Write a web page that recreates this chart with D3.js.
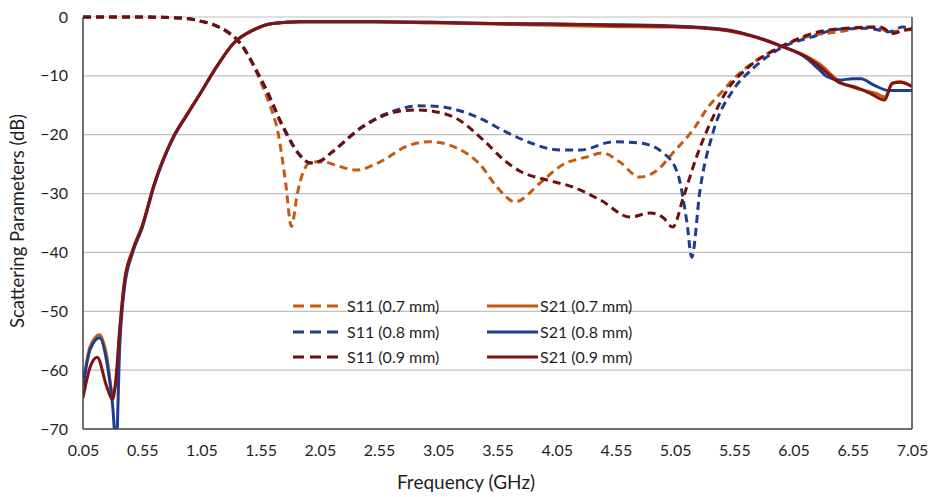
<!DOCTYPE html>
<html>
<head>
<meta charset="utf-8">
<script src="https://cdn.jsdelivr.net/npm/d3@7"></script>
<style>
  html, body { margin: 0; padding: 0; background: #fff; }
  svg { display: block; font-family: Lato, "Open Sans", sans-serif; }
</style>
</head>
<body>
<svg id="chart" width="928" height="497"></svg>
<script>
// ---------- data (frequency GHz, dB) ----------
const xTicks = [0.05, 0.55, 1.05, 1.55, 2.05, 2.55, 3.05, 3.55, 4.05, 4.55, 5.05, 5.55, 6.05, 6.55, 7.05];
const yTicks = [0, -10, -20, -30, -40, -50, -60, -70];

const s11_07 = [[0.05,0],[0.5,0],[0.8,-0.1],[0.95,-0.3],[1.04,-0.7],[1.15,-1.3],[1.27,-2.6],[1.38,-4.6],[1.47,-7.5],[1.55,-11],[1.62,-14.5],[1.70,-20],[1.76,-28],[1.81,-35.6],[1.86,-30],[1.91,-26.3],[1.98,-24.6],[2.1,-24.7],[2.2,-25.3],[2.36,-26],[2.56,-24.6],[2.79,-21.9],[2.98,-21.2],[3.21,-22.3],[3.4,-25],[3.55,-29],[3.70,-31.4],[3.91,-28.2],[4.10,-25.1],[4.3,-23.8],[4.44,-23.1],[4.58,-24.6],[4.75,-27.2],[4.90,-26],[5.03,-23.1],[5.20,-19.2],[5.34,-15],[5.45,-12.6],[5.54,-10.6],[5.74,-7.3],[5.94,-5.1],[6.19,-3.2],[6.44,-2.5],[6.67,-1.7],[6.78,-1.9],[6.86,-2.6],[6.95,-2.3],[7.05,-2.1]];

const s11_08 = [[0.05,0],[0.5,0],[0.8,-0.1],[0.95,-0.3],[1.04,-0.7],[1.15,-1.3],[1.27,-2.5],[1.38,-4.5],[1.52,-9.3],[1.60,-12.6],[1.74,-18.8],[1.88,-23.5],[1.97,-24.8],[2.05,-24.5],[2.15,-23],[2.41,-18.6],[2.7,-15.8],[2.87,-15.1],[3.05,-15.2],[3.21,-15.8],[3.40,-17.2],[3.6,-19.3],[3.77,-20.9],[4.08,-22.6],[4.25,-22.6],[4.53,-21.2],[4.75,-21.4],[4.95,-23.1],[5.07,-26.5],[5.15,-35],[5.19,-40.8],[5.26,-29.4],[5.37,-19.6],[5.54,-12.4],[5.71,-8.7],[5.94,-5.3],[6.25,-3.1],[6.38,-2.2],[6.67,-1.9],[6.86,-2.5],[6.97,-1.7],[7.05,-1.9]];

const s11_09 = [[0.05,0],[0.5,0],[0.8,-0.1],[0.95,-0.3],[1.04,-0.7],[1.15,-1.3],[1.27,-2.5],[1.38,-4.5],[1.52,-9.3],[1.60,-12.4],[1.74,-18.6],[1.88,-23.4],[1.97,-24.8],[2.05,-24.5],[2.15,-23],[2.41,-18.7],[2.7,-16.1],[2.87,-15.8],[3.0,-16],[3.2,-17.2],[3.43,-20.9],[3.6,-24.2],[3.74,-26.2],[3.97,-27.7],[4.19,-28.9],[4.42,-31.1],[4.67,-34],[4.84,-33.3],[4.95,-34.1],[5.03,-35.7],[5.12,-30.6],[5.23,-23.8],[5.37,-17],[5.49,-12.4],[5.66,-8.7],[5.94,-5.1],[6.21,-2.8],[6.50,-1.9],[6.78,-1.7],[6.89,-2.8],[6.97,-2.3],[7.05,-2]];

const s21_07 = [[0.05,-62.5],[0.11,-56],[0.19,-54],[0.25,-57.5],[0.30,-64],[0.33,-62],[0.36,-53.5],[0.40,-45],[0.47,-39.6],[0.55,-35.5],[0.65,-28.5],[0.81,-20.5],[0.93,-16.5],[1.04,-13],[1.18,-8.4],[1.32,-4.5],[1.49,-2.2],[1.65,-1.1],[1.88,-0.8],[2.5,-0.8],[3.0,-1.0],[3.5,-1.2],[4.0,-1.4],[4.5,-1.6],[5.0,-1.7],[5.3,-1.9],[5.5,-2.4],[5.7,-3.3],[5.94,-4.9],[6.16,-6.7],[6.27,-8.0],[6.44,-11],[6.61,-12.3],[6.75,-13],[6.82,-13.6],[6.89,-11.2],[6.95,-11],[7.05,-11.8]];

const s21_08 = [[0.05,-62.8],[0.11,-56.5],[0.19,-54.5],[0.25,-58.5],[0.30,-66],[0.33,-73],[0.36,-56],[0.40,-46],[0.47,-40],[0.55,-35.8],[0.65,-28.7],[0.81,-20.6],[0.93,-16.6],[1.04,-13],[1.18,-8.4],[1.32,-4.5],[1.49,-2.2],[1.65,-1.1],[1.88,-0.8],[2.5,-0.8],[3.0,-0.9],[3.5,-1.1],[4.0,-1.2],[4.5,-1.3],[5.0,-1.5],[5.3,-1.8],[5.5,-2.2],[5.7,-3.2],[5.94,-4.9],[6.16,-7.0],[6.27,-9.0],[6.33,-10.1],[6.44,-10.7],[6.55,-10.5],[6.62,-10.5],[6.72,-11.5],[6.86,-12.5],[7.05,-12.5]];

const s21_09 = [[0.05,-64.7],[0.11,-59.5],[0.17,-57.8],[0.25,-62.8],[0.30,-65],[0.33,-61],[0.36,-53],[0.40,-45],[0.47,-39.6],[0.55,-35.5],[0.65,-28.5],[0.81,-20.5],[0.93,-16.5],[1.04,-13],[1.18,-8.4],[1.32,-4.5],[1.49,-2.2],[1.65,-1.1],[1.88,-0.8],[2.5,-0.8],[3.0,-0.9],[3.5,-1.1],[4.0,-1.2],[4.5,-1.4],[5.0,-1.6],[5.3,-1.9],[5.5,-2.3],[5.7,-3.2],[5.94,-4.9],[6.16,-6.8],[6.27,-8.4],[6.44,-11.2],[6.55,-11.8],[6.61,-12.2],[6.70,-13],[6.82,-14.1],[6.88,-11.3],[6.95,-11.1],[7.05,-11.8]];

const seriesNames = ["S11 (0.7 mm)", "S11 (0.8 mm)", "S11 (0.9 mm)", "S21 (0.7 mm)", "S21 (0.8 mm)", "S21 (0.9 mm)"];

// ---------- styles ----------
const colors = ["#C55A11", "#1F3D8F", "#6E0F0F", "#C55A11", "#1F3D8F", "#7E1414"];
const series = [
  {name: seriesNames[0], data: s11_07, color: colors[0], dashed: true},
  {name: seriesNames[1], data: s11_08, color: colors[1], dashed: true},
  {name: seriesNames[2], data: s11_09, color: colors[2], dashed: true},
  {name: seriesNames[3], data: s21_07, color: colors[3], dashed: false},
  {name: seriesNames[4], data: s21_08, color: colors[4], dashed: false},
  {name: seriesNames[5], data: s21_09, color: colors[5], dashed: false}
];

const svg = d3.select("#chart");
const margin = {left: 83, right: 16, top: 17, bottom: 68};
const W = 928, H = 497;
const textColor = "#1f1f1f";

const x = d3.scaleLinear().domain([0.05, 7.05]).range([margin.left, W - margin.right]);
const y = d3.scaleLinear().domain([-70, 0]).range([H - margin.bottom, margin.top]);

// gridlines
svg.append("g").selectAll("line").data(yTicks.filter(d => d !== -70)).join("line")
  .attr("x1", x(0.05)).attr("x2", x(7.05))
  .attr("y1", d => y(d)).attr("y2", d => y(d))
  .attr("stroke", "#BFBFBF").attr("stroke-width", 1.2);

// clip
svg.append("clipPath").attr("id", "clip").append("rect")
  .attr("x", x(0.05)).attr("y", y(0) - 4).attr("width", x(7.05) - x(0.05)).attr("height", y(-70) - y(0) + 4);

const line = d3.line().x(d => x(d[0])).y(d => y(d[1])).curve(d3.curveMonotoneX);

const gLines = svg.append("g").attr("clip-path", "url(#clip)");
series.forEach(s => {
  gLines.append("path")
    .attr("d", line(s.data))
    .attr("fill", "none")
    .attr("stroke", s.color)
    .attr("stroke-width", 3)
    .attr("stroke-linejoin", "round")
    .attr("stroke-dasharray", s.dashed ? "8,5" : null);
});

// axes frame (left, bottom, right)
svg.append("line").attr("x1", x(0.05)).attr("x2", x(0.05)).attr("y1", y(0)).attr("y2", y(-70))
  .attr("stroke", "#404040").attr("stroke-width", 1.5);
svg.append("line").attr("x1", x(0.05)).attr("x2", x(7.05)).attr("y1", y(-70)).attr("y2", y(-70))
  .attr("stroke", "#404040").attr("stroke-width", 1.5);
svg.append("line").attr("x1", x(7.05)).attr("x2", x(7.05)).attr("y1", y(0)).attr("y2", y(-70))
  .attr("stroke", "#404040").attr("stroke-width", 1.5);

// tick labels via axes
const xAxis = d3.axisBottom(x).tickValues(xTicks).tickFormat(d3.format(".2f")).tickSize(0).tickPadding(16);
const gx = svg.append("g").attr("transform", `translate(0,${y(-70)})`).call(xAxis);
gx.select(".domain").remove();
gx.selectAll("text").attr("font-size", 16).attr("fill", textColor).attr("font-family", "Lato, sans-serif");

const yAxis = d3.axisLeft(y).tickValues(yTicks).tickFormat(d3.format("d")).tickSize(0).tickPadding(15);
const gy = svg.append("g").attr("transform", `translate(${x(0.05)},0)`).call(yAxis);
gy.select(".domain").remove();
gy.selectAll("text").attr("font-size", 16).attr("fill", textColor).attr("font-family", "Lato, sans-serif");

// axis titles
svg.append("text").attr("x", 466).attr("y", 489).attr("text-anchor", "middle")
  .attr("font-size", 19).attr("fill", textColor).text("Frequency (GHz)");
svg.append("text").attr("transform", `translate(24,${(y(0) + y(-70)) / 2 - 2}) rotate(-90)`)
  .attr("text-anchor", "middle").attr("font-size", 18.5).attr("fill", textColor)
  .text("Scattering Parameters (dB)");

// legend
const legRows = [306, 332, 357];
const legCols = [{x1: 293, x2: 338, tx: 347}, {x1: 487, x2: 538, tx: 540}];
series.forEach((s, i) => {
  const col = legCols[Math.floor(i / 3)];
  const ry = legRows[i % 3];
  svg.append("line").attr("x1", col.x1).attr("x2", col.x2).attr("y1", ry).attr("y2", ry)
    .attr("stroke", s.color).attr("stroke-width", 3)
    .attr("stroke-dasharray", s.dashed ? "11,6" : null);
  svg.append("text").attr("x", col.tx).attr("y", ry + 5.5).attr("font-size", 16)
    .attr("fill", textColor).text(s.name);
});
</script>
</body>
</html>
